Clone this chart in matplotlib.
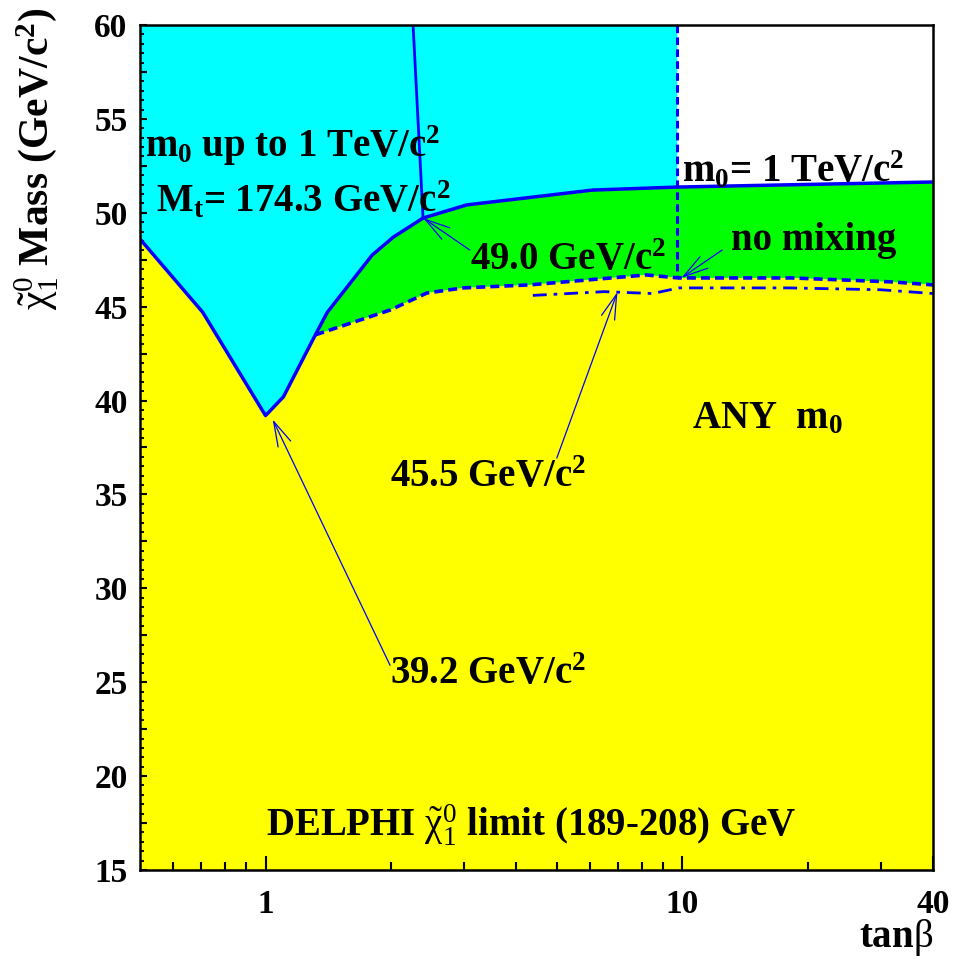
import numpy as np
import matplotlib
matplotlib.use('Agg')
import matplotlib.pyplot as plt

plt.rcParams['font.family'] = ['Liberation Serif', 'DejaVu Serif']
plt.rcParams['font.weight'] = 'bold'
plt.rcParams['mathtext.fontset'] = 'custom'
plt.rcParams['mathtext.rm'] = 'Liberation Serif:weight=normal'
plt.rcParams['mathtext.it'] = 'Liberation Serif:italic:weight=normal'
plt.rcParams['mathtext.bf'] = 'Liberation Serif:bold'

# V-shaped limit (any m0 / m0 up to 1 TeV boundary)
v_tanb = [0.5, 0.707, 1.0, 1.104, 1.317, 1.407, 1.803, 2.025, 2.388]
v_mass = [48.6, 44.7, 39.2, 40.2, 43.5, 44.7, 47.75, 48.7, 49.72]
# upper edge of green band (m0 = 1 TeV)
top_tanb = [2.388, 3.04, 6.09, 9.73, 17.1, 40.0]
top_mass = [49.72, 50.42, 51.21, 51.37, 51.48, 51.64]
# no mixing curve (dashed)
nomix_tanb = [1.317, 1.99, 2.44, 2.98, 4.30, 8.20, 9.8, 18.3, 31.8, 40.0]
nomix_mass = [43.5, 44.82, 45.73, 46.0, 46.16, 46.69, 46.53, 46.53, 46.32, 46.16]
# dash-dotted curve
dd_tanb = [4.38, 6.5, 8.5, 9.8, 18.0, 30.0, 40.0]
dd_mass = [45.6, 45.8, 45.7, 46.0, 46.0, 45.9, 45.7]
# m0 up to 1 TeV line and m0 = 1 TeV vertical edge
m0line_tanb = [2.26, 2.388]
m0line_mass = [60.0, 49.72]
edge_tanb = [9.73, 9.73]
edge_mass = [60.0, 46.53]

xmin, xmax, ymin, ymax = 0.5, 40.0, 15.0, 60.0
blue = '#0000ff'

fig = plt.figure(figsize=(9.66, 9.66), dpi=100)
ax = fig.add_axes([0.145, 0.0994, 0.821, 0.8747])

# yellow: below V and no-mixing line
yx = v_tanb[:5] + nomix_tanb[1:] + [xmax, xmin]
yy = v_mass[:5] + nomix_mass[1:] + [ymin, ymin]
ax.fill(yx, yy, color='#ffff00', lw=0)

# green band
gx = v_tanb[4:] + top_tanb[1:] + nomix_tanb[::-1]
gy = v_mass[4:] + top_mass[1:] + nomix_mass[::-1]
ax.fill(gx, gy, color='#00ff00', lw=0)

# cyan: m0 up to 1 TeV excluded region
cx = v_tanb + top_tanb[1:4] + [edge_tanb[0], xmin]
cy = v_mass + top_mass[1:4] + [ymax, ymax]
ax.fill(cx, cy, color='#00ffff', lw=0)

ax.plot(v_tanb, v_mass, color=blue, lw=2.5)
ax.plot(top_tanb, top_mass, color=blue, lw=2.5)
ax.plot(m0line_tanb, m0line_mass, color=blue, lw=2.0)
ax.plot(nomix_tanb, nomix_mass, color=blue, lw=2.6, ls=(0, (2.5, 1.4)))
ax.plot(dd_tanb, dd_mass, color=blue, lw=2.0, ls=(0, (5, 2.5, 1.3, 2.5)))
ax.plot(edge_tanb, edge_mass, color=blue, lw=2.2, ls=(0, (2.5, 1.4)))

ax.set_xscale('log')
ax.set_xlim(xmin, xmax)
ax.set_ylim(ymin, ymax)

ax.set_xticks([1, 10, 40])
ax.set_xticklabels(['1', '10', '40'])
ax.set_xticks([0.6, 0.7, 0.8, 0.9, 2, 3, 4, 5, 6, 7, 8, 9, 20, 30], minor=True)
ax.xaxis.set_minor_formatter(matplotlib.ticker.NullFormatter())
yt = np.arange(15, 60.1, 2.5)
ax.set_yticks(yt)
ax.set_yticklabels([str(int(v)) if v % 5 == 0 else '' for v in yt])
ax.set_yticks(np.arange(15, 60.1, 0.5), minor=True)

ax.tick_params(axis='x', which='major', direction='in', length=10, width=1.5,
               labelsize=24, pad=14)
ax.tick_params(axis='x', which='minor', direction='in', length=6, width=1.5)
ax.tick_params(axis='y', which='major', direction='in', length=5, width=1.5,
               labelsize=24, pad=9)
ax.tick_params(axis='y', which='minor', direction='in', length=3, width=1.3)
for s in ax.spines.values():
    s.set_linewidth(1.8)

fs = 28
ax.text(0.515, 52.97, r'm$_{\mathbf{0}}$ up to 1 TeV/c$^{\mathbf{2}}$', fontsize=fs, fontweight='bold')
ax.text(0.545, 50.04, r'M$_{\mathbf{t}}$= 174.3 GeV/c$^{\mathbf{2}}$', fontsize=fs, fontweight='bold')
ax.text(3.09, 46.95, r'49.0 GeV/c$^{\mathbf{2}}$', fontsize=fs, fontweight='bold')
ax.text(10.0, 51.6, r'm$_{\mathbf{0}}$= 1 TeV/c$^{\mathbf{2}}$', fontsize=fs, fontweight='bold')
ax.text(13.1, 48.02, 'no mixing', fontsize=fs, fontweight='bold')
ax.text(10.57, 38.54, r'ANY  m$_{\mathbf{0}}$', fontsize=fs, fontweight='bold')
ax.text(1.99, 35.4, r'45.5 GeV/c$^{\mathbf{2}}$', fontsize=fs, fontweight='bold')
ax.text(1.99, 24.9, r'39.2 GeV/c$^{\mathbf{2}}$', fontsize=fs, fontweight='bold')
ax.text(1.0, 16.8, r'DELPHI $\tilde{\mathrm{\chi}}_1^0$ limit (189-208) GeV', fontsize=fs, fontweight='bold')

arrow = dict(arrowstyle='->,head_length=0.9,head_width=0.25', color=blue, lw=0.9,
             mutation_scale=20, shrinkA=0, shrinkB=0)
ax.annotate('', xy=(1.04, 39.0), xytext=(1.99, 25.9), arrowprops=arrow)
ax.annotate('', xy=(6.99, 45.78), xytext=(5.0, 36.94), arrowprops=arrow)
ax.annotate('', xy=(2.39, 49.72), xytext=(3.09, 48.02), arrowprops=arrow)
ax.annotate('', xy=(9.95, 46.53), xytext=(12.47, 48.02), arrowprops=arrow)

fig.text(0.037, 0.992, r'$\tilde{\mathrm{\chi}}_1^0$ Mass (GeV/c$^{\mathbf{2}}$)', rotation=90,
         ha='center', va='top', fontsize=30, fontweight='bold')
fig.text(0.966, 0.0197, r'tan$\mathrm{\beta}$', ha='right', va='baseline',
         fontsize=fs, fontweight='bold')

fig.savefig('out.png', dpi=100)
